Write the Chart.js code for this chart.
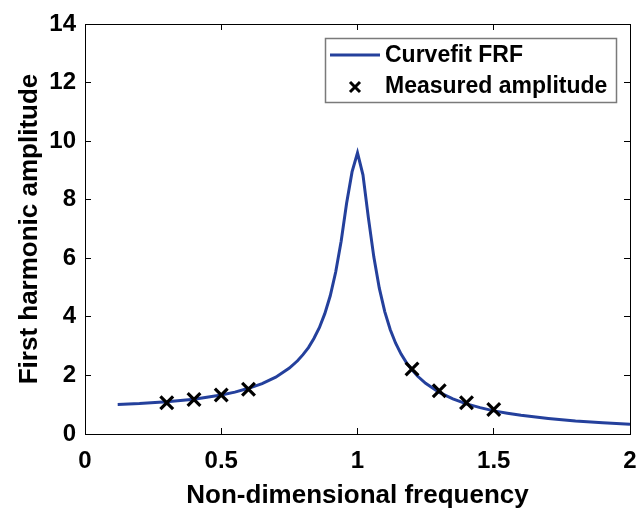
<!DOCTYPE html>
<html>
<head>
<meta charset="utf-8">
<script src="https://cdn.jsdelivr.net/npm/chart.js@4.4.0/dist/chart.umd.min.js"></script>
<style>
  html, body { margin: 0; padding: 0; background: #fff; overflow: hidden; }
  #wrap { position: relative; width: 638px; height: 509px; }
</style>
</head>
<body>
<div id="wrap"><canvas id="c"></canvas></div>
<script>
// ---- data ----
const curveX = [0.12,0.2,0.3,0.4,0.5,0.55,0.6,0.65,0.7,0.75,0.78,0.8,0.82,0.84,0.86,0.88,0.9,0.92,0.94,0.96,0.98,1.0,1.02,1.04,1.06,1.08,1.1,1.12,1.14,1.16,1.18,1.2,1.22,1.25,1.3,1.35,1.4,1.45,1.5,1.55,1.6,1.7,1.8,1.9,2.0];
const curveY = [1.01,1.04,1.10,1.19,1.33,1.43,1.56,1.72,1.94,2.25,2.50,2.71,2.95,3.26,3.63,4.11,4.72,5.53,6.58,7.88,8.95,9.6,8.85,7.38,6.04,4.98,4.18,3.57,3.10,2.73,2.43,2.19,1.98,1.73,1.42,1.20,1.03,0.90,0.79,0.71,0.64,0.53,0.44,0.38,0.33];
const measX = [0.3,0.4,0.5,0.6,1.2,1.3,1.4,1.5];
const measY = [1.07,1.18,1.33,1.53,2.22,1.48,1.07,0.84];
const xTicks = [0,0.5,1,1.5,2];
const yTicks = [0,2,4,6,8,10,12,14];
const seriesNames = ['Curvefit FRF','Measured amplitude'];
const xTitle = 'Non-dimensional frequency';
const yTitle = 'First harmonic amplitude';

const LINE_COLOR = '#24409c';
const FONT = '"Liberation Sans", Arial, sans-serif';

const legendPlugin = {
  id: 'boxLegend',
  afterDraw(chart) {
    const ctx = chart.ctx;
    ctx.save();
    ctx.fillStyle = '#fff';
    ctx.fillRect(325, 38, 291, 65);
    ctx.strokeStyle = '#7a7a7a';
    ctx.lineWidth = 1.5;
    ctx.strokeRect(325.5, 38.5, 291, 64);
    ctx.strokeStyle = LINE_COLOR;
    ctx.lineWidth = 3;
    ctx.beginPath(); ctx.moveTo(330, 55); ctx.lineTo(380, 55); ctx.stroke();
    ctx.strokeStyle = '#000';
    ctx.lineWidth = 3;
    const cx = 355, cy = 87, d = 5;
    ctx.beginPath();
    ctx.moveTo(cx - d, cy - d); ctx.lineTo(cx + d, cy + d);
    ctx.moveTo(cx + d, cy - d); ctx.lineTo(cx - d, cy + d);
    ctx.stroke();
    ctx.fillStyle = '#000';
    ctx.font = 'bold 23px ' + FONT;
    ctx.textBaseline = 'middle';
    ctx.textAlign = 'left';
    ctx.fillText(seriesNames[0], 385, 56);
    ctx.fillText(seriesNames[1], 385, 87);
    ctx.restore();
  }
};

const tickFont = { family: FONT, size: 24, weight: 'bold' };
const titleFont = { family: FONT, size: 26, weight: 'bold', lineHeight: 1 };
const gridOpts = { display: true, drawOnChartArea: false, drawTicks: true, tickLength: -6, tickColor: '#000', tickWidth: 1 };
const borderOpts = { display: true, color: '#000', width: 1 };
const fmt = v => String(v);

new Chart(document.getElementById('c'), {
  type: 'scatter',
  data: {
    datasets: [
      {
        label: seriesNames[1],
        data: measX.map((x, i) => ({ x, y: measY[i] })),
        pointStyle: 'crossRot',
        pointRadius: 9,
        pointBorderWidth: 3.2,
        borderColor: '#000',
        backgroundColor: '#000',
        showLine: false
      },
      {
        label: seriesNames[0],
        data: curveX.map((x, i) => ({ x, y: curveY[i] })),
        showLine: true,
        pointRadius: 0,
        borderWidth: 3,
        borderColor: LINE_COLOR,
        tension: 0,
        fill: false
      }
    ]
  },
  options: {
    responsive: true,
    maintainAspectRatio: false,
    devicePixelRatio: 1,
    animation: false,
    layout: { padding: 0, autoPadding: false },
    plugins: { legend: { display: false }, tooltip: { enabled: false } },
    scales: {
      x: {
        type: 'linear', position: 'bottom', min: 0, max: 2,
        afterBuildTicks: s => { s.ticks = xTicks.map(v => ({ value: v })); },
        afterFit: s => { s.height = 75; s.paddingLeft = 0; s.paddingRight = 0; },
        ticks: { font: tickFont, color: '#000', padding: 19, maxRotation: 0, callback: fmt },
        grid: gridOpts, border: borderOpts,
        title: { display: true, text: xTitle, font: titleFont, color: '#000', padding: 0 }
      },
      x2: {
        type: 'linear', position: 'top', min: 0, max: 2,
        afterBuildTicks: s => { s.ticks = xTicks.map(v => ({ value: v })); },
        afterFit: s => { s.height = 24; s.paddingLeft = 0; s.paddingRight = 0; },
        ticks: { display: false },
        grid: gridOpts, border: borderOpts
      },
      y: {
        type: 'linear', position: 'left', min: 0, max: 14,
        afterBuildTicks: s => { s.ticks = yTicks.map(v => ({ value: v })); },
        afterFit: s => { s.width = 85; s.paddingTop = 0; s.paddingBottom = 0; },
        ticks: { font: tickFont, color: '#000', padding: 15, callback: fmt },
        grid: gridOpts, border: borderOpts,
        title: { display: true, text: yTitle, font: titleFont, color: '#000', padding: { top: 17, bottom: 0 } }
      },
      y2: {
        type: 'linear', position: 'right', min: 0, max: 14,
        afterBuildTicks: s => { s.ticks = yTicks.map(v => ({ value: v })); },
        afterFit: s => { s.width = 8; s.paddingTop = 0; s.paddingBottom = 0; },
        ticks: { display: false },
        grid: gridOpts, border: borderOpts
      }
    }
  },
  plugins: [legendPlugin]
});
</script>
</body>
</html>
